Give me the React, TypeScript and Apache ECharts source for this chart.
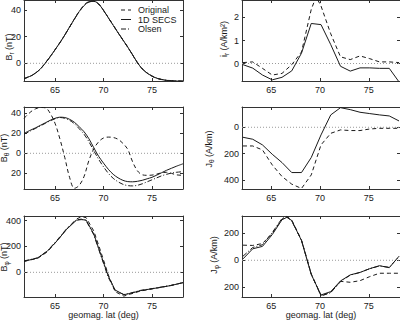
import React, { useEffect, useRef } from "react";
import * as echarts from "echarts";

const FONT = '"Liberation Sans", Arial, Helvetica, sans-serif';
const INK = "#1a1a1a";

// Latitude extents of the two columns and their tick marks
const LEFT_LAT_RANGE = [61.8, 78.2];
const RIGHT_LAT_RANGE = [62, 78.2];
const LAT_TICKS = [65, 70, 75];

const SERIES_NAMES = ["Original", "1D SECS", "Olsen"];

// B_r (nT)
const BR_RANGE = [-13.3, 47.6];
const BR_TICKS = [0, 20, 40];
const BR_LAT = [61.8, 62.5, 63, 63.5, 64, 64.5, 65, 65.5, 66, 66.5, 67, 67.5, 68, 68.5, 69, 69.5, 70, 70.5, 71, 71.5, 72, 72.5, 73, 73.5, 74, 74.5, 75, 75.5, 76, 76.5, 77, 77.5, 78.2];
const BR_ORIGINAL = [-11.7, -9.6, -7.3, -4.1, 0.3, 5.1, 10.2, 15.5, 21.1, 27.3, 33.4, 39.1, 43.7, 46.4, 46.7, 44.7, 39.9, 34.3, 28.6, 23, 17.5, 12.1, 6.3, 0.4, -4.3, -7.4, -9.7, -11.3, -12.3, -12.9, -13.2, -13.4, -13.5];
const BR_SECS = [-11.5, -9.5, -7.3, -4.2, 0.2, 5, 10.2, 15.5, 21.2, 27.3, 33.3, 39, 43.5, 46.2, 46.6, 44.6, 39.8, 34.2, 28.6, 23, 17.6, 12.2, 6.4, 0.5, -4.2, -7.3, -9.6, -11.2, -12.2, -12.8, -13.1, -13.3, -13.4];
const BR_OLSEN = [-11.4, -9.4, -7.2, -4.2, 0.1, 4.9, 10.1, 15.4, 21.2, 27.2, 33.2, 38.9, 43.4, 46.1, 46.5, 44.5, 39.7, 34.2, 28.7, 23.1, 17.7, 12.2, 6.4, 0.6, -4.1, -7.2, -9.5, -11.1, -12.1, -12.7, -13.0, -13.2, -13.3];

// B_theta (nT)
const BTH_RANGE = [-35.7, 46.3];
const BTH_TICKS = [-20, 0, 20, 40];
const BTH_LAT = BR_LAT;
const BTH_ORIGINAL = [35, 41.5, 44.5, 45.8, 45.5, 40, 30, 14.5, -4, -24, -35, -32, -23, -7, 4.5, 11.5, 15.3, 16.2, 15.8, 14, 10, 4, -8.5, -17.5, -21.5, -22, -21.8, -20.8, -19.5, -19, -20, -21.5, -22];
const BTH_SECS = [20, 23.3, 25.5, 28, 30.5, 33, 35, 36.1, 35.8, 34, 31, 26.5, 21.5, 14.5, 5.5, -3, -9.8, -16, -21, -24.5, -27, -28.3, -28.5, -28, -27, -25.5, -24, -21.8, -19.4, -17, -15, -13, -10.5];
const BTH_OLSEN = [19, 22.5, 25, 27.5, 30, 32.5, 34.5, 35.8, 35, 33, 29.5, 24.5, 19, 11.5, 2.5, -6, -13.5, -20, -25, -28.5, -31, -32.3, -32.6, -32, -30.5, -28.5, -26.5, -24.5, -22.5, -21, -19.8, -19, -18.4];

// B_phi (nT)
const BPHI_RANGE = [-191, 436];
const BPHI_TICKS = [0, 200, 400];
const BPHI_LAT = [61.8, 63.2, 64.2, 65.2, 66.2, 67.2, 67.7, 68.2, 69.0, 69.7, 70.5, 71.2, 72.1, 72.8, 73.8, 75.5, 76.9, 78.2];
const BPHI_ORIGINAL = [85, 108, 158, 243, 335, 412, 430, 424, 320, 165, -20, -150, -184, -168, -145, -122, -103, -80];
const BPHI_SECS = [85, 111, 163, 243, 333, 403, 408, 405, 297, 142, -30, -137, -173, -163, -142, -121, -103, -80];
const BPHI_OLSEN = [88, 112, 165, 248, 338, 405, 412, 400, 290, 135, -40, -142, -172, -160, -140, -120, -102, -80];

// Current grid latitudes (A/km^2 and A/km panels)
const J_LAT = [62.1, 63.1, 64.1, 65.1, 66.1, 67.1, 68.1, 69.1, 70.1, 71.1, 72.1, 73.1, 74.1, 75.1, 76.1, 77.1, 78.1];

// i_r (A/km^2)
const IR_RANGE = [-0.76, 2.76];
const IR_TICKS = [0, 1, 2];
const IR_ORIGINAL_LAT = [62.1, 63.1, 64.1, 65.1, 66.1, 67.1, 68.1, 69.1, 69.6, 70.1, 71.1, 72.1, 73.1, 74.1, 75.1, 76.1, 77.1, 78.1];
const IR_ORIGINAL = [0.04, 0.07, -0.21, -0.5, -0.43, -0.05, 0.5, 2.35, 2.9, 2.5, 1.29, 0.29, 0.17, 0.33, 0.21, 0.07, 0.07, 0.04];
const IR_SECS = [-0.05, -0.2, -0.5, -0.71, -0.6, -0.32, 0.45, 1.74, 1.69, 0.82, -0.12, -0.33, -0.19, -0.19, -0.21, -0.21, -0.8];

// J_theta (A/km)
const JTH_RANGE = [-469, 154];
const JTH_TICKS = [-400, -200, 0];
const JTH_ORIGINAL = [-142, -142, -172, -286, -374, -432, -465, -362, -134, -46, -20, -25, -25, -13, -8, -8, -8];
const JTH_SECS = [-76, -91, -134, -205, -268, -344, -344, -230, -58, 94, 149, 134, 114, 104, 94, 86, 48];

// J_phi (A/km)
const JPH_RANGE = [-272, 328];
const JPH_TICKS = [-200, 0, 200];
const JPH_LAT = [62.1, 63.1, 64.1, 65.1, 66.1, 66.6, 67.1, 68.1, 69.1, 70.1, 71.1, 72.1, 73.1, 74.1, 75.1, 76.1, 77.1, 78.1];
const JPH_ORIGINAL = [112, 110, 124, 200, 305, 325, 298, 150, -100, -262, -238, -156, -163, -151, -121, -96, -96, -96];
const JPH_SECS = [10, 85, 103, 190, 300, 318, 295, 146, -105, -257, -232, -153, -108, -90, -62, -40, -55, 30];
const JPH_OLSEN = [30, 95, 115, 205, 310, 322, 290, 148, -103, -265, -240, -158, -110, -90, -62, -42, -52, 28];

const DASH: Record<string, any> = {
  Original: [4, 3],
  "1D SECS": "solid",
  Olsen: [5, 2, 1, 2],
};

type Curve = { name: string; lat: number[]; values: number[] };
type Panel = {
  grid: { left: number; top: number; width: number; height: number };
  latRange: number[];
  range: number[];
  ticks: number[];
  smooth: boolean;
  curves: Curve[];
  label: { x: number; y: number; main: string; sub: string; rest: string };
  xName?: string;
};

const PANELS: Panel[] = [
  {
    grid: { left: 24, top: -1, width: 159, height: 82 },
    latRange: LEFT_LAT_RANGE, range: BR_RANGE, ticks: BR_TICKS, smooth: true,
    curves: [
      { name: "Original", lat: BR_LAT, values: BR_ORIGINAL },
      { name: "1D SECS", lat: BR_LAT, values: BR_SECS },
      { name: "Olsen", lat: BR_LAT, values: BR_OLSEN },
    ],
    label: { x: 9, y: 47, main: "B", sub: "r", rest: " (nT)" },
  },
  {
    grid: { left: 242, top: -1, width: 159, height: 82 },
    latRange: RIGHT_LAT_RANGE, range: IR_RANGE, ticks: IR_TICKS, smooth: false,
    curves: [
      { name: "Original", lat: IR_ORIGINAL_LAT, values: IR_ORIGINAL },
      { name: "1D SECS", lat: J_LAT, values: IR_SECS },
    ],
    label: { x: 223.5, y: 39, main: "i", sub: "r", rest: " (A/km\u00b2)" },
  },
  {
    grid: { left: 24, top: 107, width: 159, height: 82 },
    latRange: LEFT_LAT_RANGE, range: BTH_RANGE, ticks: BTH_TICKS, smooth: true,
    curves: [
      { name: "Original", lat: BTH_LAT, values: BTH_ORIGINAL },
      { name: "1D SECS", lat: BTH_LAT, values: BTH_SECS },
      { name: "Olsen", lat: BTH_LAT, values: BTH_OLSEN },
    ],
    label: { x: 3.5, y: 148, main: "B", sub: "\u03b8", rest: " (nT)" },
  },
  {
    grid: { left: 242, top: 107, width: 159, height: 82 },
    latRange: RIGHT_LAT_RANGE, range: JTH_RANGE, ticks: JTH_TICKS, smooth: false,
    curves: [
      { name: "Original", lat: J_LAT, values: JTH_ORIGINAL },
      { name: "1D SECS", lat: J_LAT, values: JTH_SECS },
    ],
    label: { x: 208.5, y: 149, main: "J", sub: "\u03b8", rest: " (A/km)" },
  },
  {
    grid: { left: 24, top: 216, width: 159, height: 81 },
    latRange: LEFT_LAT_RANGE, range: BPHI_RANGE, ticks: BPHI_TICKS, smooth: false,
    curves: [
      { name: "Original", lat: BPHI_LAT, values: BPHI_ORIGINAL },
      { name: "1D SECS", lat: BPHI_LAT, values: BPHI_SECS },
      { name: "Olsen", lat: BPHI_LAT, values: BPHI_OLSEN },
    ],
    label: { x: 3.5, y: 257, main: "B", sub: "\u03c6", rest: " (nT)" },
    xName: "geomag. lat (deg)",
  },
  {
    grid: { left: 242, top: 216, width: 159, height: 81 },
    latRange: RIGHT_LAT_RANGE, range: JPH_RANGE, ticks: JPH_TICKS, smooth: false,
    curves: [
      { name: "Original", lat: JPH_LAT, values: JPH_ORIGINAL },
      { name: "1D SECS", lat: JPH_LAT, values: JPH_SECS },
      { name: "Olsen", lat: JPH_LAT, values: JPH_OLSEN },
    ],
    label: { x: 213.5, y: 255, main: "J", sub: "\u03c6", rest: " (A/km)" },
    xName: "geomag. lat (deg)",
  },
];

// Key placement inside the B_r panel
const KEY = { x: 121, y: 10, rowGap: 9.5, lineLen: 10, textGap: 17 };

let measureCtx: CanvasRenderingContext2D | null = null;
function textWidth(text: string, size: number): number {
  if (!measureCtx) measureCtx = document.createElement("canvas").getContext("2d");
  if (!measureCtx) return text.length * size * 0.55;
  measureCtx.font = `${size}px ${FONT}`;
  return measureCtx.measureText(text).width;
}

// Vertical axis title with a subscript, reading bottom to top
function axisTitle(l: Panel["label"]) {
  const main = 9;
  const sub = 6.5;
  const w1 = textWidth(l.main, main);
  const w2 = textWidth(l.sub, sub);
  const w3 = textWidth(l.rest, main);
  const x0 = -(w1 + w2 + w3) / 2;
  const base = { fill: INK, fontFamily: FONT, verticalAlign: "middle", align: "left" };
  return {
    type: "group",
    x: l.x,
    y: l.y,
    rotation: Math.PI / 2,
    silent: true,
    children: [
      { type: "text", x: x0, y: 0, style: { ...base, text: l.main, fontSize: main } },
      { type: "text", x: x0 + w1, y: 2.6, style: { ...base, text: l.sub, fontSize: sub } },
      { type: "text", x: x0 + w1 + w2, y: 0, style: { ...base, text: l.rest, fontSize: main } },
    ],
  };
}

// Line-style key for the three estimates
function keyGraphic() {
  const children: any[] = [];
  SERIES_NAMES.forEach((name, i) => {
    const y = KEY.y + i * KEY.rowGap;
    const dash = DASH[name];
    children.push({
      type: "line",
      shape: { x1: KEY.x, y1: y, x2: KEY.x + KEY.lineLen, y2: y },
      style: { stroke: INK, lineWidth: 1, lineDash: dash === "solid" ? null : dash },
    });
    children.push({
      type: "text",
      x: KEY.x + KEY.textGap,
      y,
      style: { text: name, fill: INK, fontSize: 9, fontFamily: FONT, verticalAlign: "middle", align: "left" },
    });
  });
  return { type: "group", silent: true, children };
}

function buildOption() {
  const grid: any[] = [];
  const xAxis: any[] = [];
  const yAxis: any[] = [];
  const series: any[] = [];
  const graphic: any[] = [];

  const frame = { show: true, onZero: false, lineStyle: { color: "#333", width: 1 } };
  const labelStyle = { fontSize: 9, color: INK, fontFamily: FONT };

  PANELS.forEach((p, gi) => {
    grid.push({ ...p.grid, show: false });
    const [xmin, xmax] = p.latRange;
    const [ymin, ymax] = p.range;

    xAxis.push({
      type: "value", gridIndex: gi, position: "bottom", min: xmin, max: xmax,
      axisLine: frame,
      axisTick: { show: true, inside: true, length: 3, customValues: LAT_TICKS, lineStyle: { color: "#333" } },
      axisLabel: { show: true, customValues: LAT_TICKS, margin: 4, ...labelStyle },
      splitLine: { show: false },
      name: p.xName || "",
      nameLocation: "middle",
      nameGap: 12,
      nameTextStyle: { fontSize: 9, color: INK, fontFamily: FONT, verticalAlign: "top" },
    });
    xAxis.push({
      type: "value", gridIndex: gi, position: "top", min: xmin, max: xmax,
      axisLine: frame,
      axisTick: { show: true, inside: true, length: 3, customValues: LAT_TICKS, lineStyle: { color: "#333" } },
      axisLabel: { show: false },
      splitLine: { show: false },
    });
    yAxis.push({
      type: "value", gridIndex: gi, position: "left", min: ymin, max: ymax,
      axisLine: frame,
      axisTick: { show: true, inside: true, length: 3, customValues: p.ticks, lineStyle: { color: "#333" } },
      axisLabel: {
        show: true, customValues: p.ticks, margin: 3, ...labelStyle,
        formatter: (v: number) => String(Math.abs(v)),
      },
      splitLine: { show: false },
    });
    yAxis.push({
      type: "value", gridIndex: gi, position: "right", min: ymin, max: ymax,
      axisLine: frame,
      axisTick: { show: true, inside: true, length: 3, customValues: p.ticks, lineStyle: { color: "#333" } },
      axisLabel: { show: false },
      splitLine: { show: false },
    });

    // dotted zero reference
    series.push({
      type: "line",
      xAxisIndex: gi * 2,
      yAxisIndex: gi * 2,
      data: [[xmin, 0], [xmax, 0]],
      symbol: "none",
      silent: true,
      z: 1,
      color: "#9a9a9a",
      lineStyle: { color: "#9a9a9a", width: 1, type: [1, 2] },
    });

    p.curves.forEach((c) => {
      series.push({
        type: "line",
        name: c.name,
        xAxisIndex: gi * 2,
        yAxisIndex: gi * 2,
        data: c.lat.map((x, i) => [x, c.values[i]]),
        symbol: "none",
        smooth: p.smooth ? 0.35 : false,
        clip: true,
        silent: true,
        z: 3,
        color: INK,
        lineStyle: { color: INK, width: 1, type: DASH[c.name] },
      });
    });

    graphic.push(axisTitle(p.label));
  });

  graphic.push(keyGraphic());

  return {
    animation: false,
    backgroundColor: "#ffffff",
    grid,
    xAxis,
    yAxis,
    series,
    graphic,
  };
}

export default function App() {
  const ref = useRef<HTMLDivElement>(null);
  useEffect(() => {
    if (!ref.current) return;
    const chart = echarts.init(ref.current, null, { renderer: "svg" });
    chart.setOption(buildOption() as any);
    return () => chart.dispose();
  }, []);
  return (
    <div
      ref={ref}
      style={{ position: "fixed", left: 0, top: 0, width: 400, height: 321, background: "#fff" }}
    />
  );
}
